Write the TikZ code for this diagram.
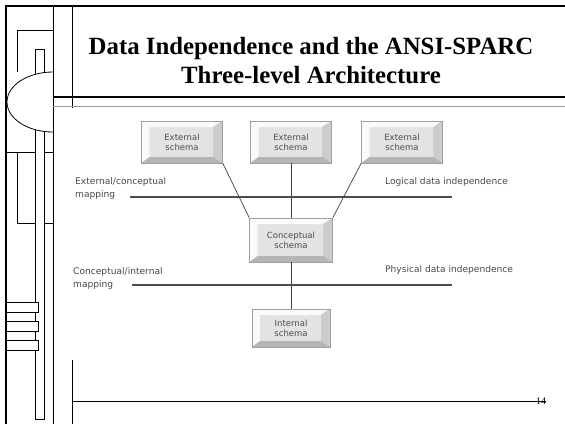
\documentclass[tikz,border=0pt]{standalone}
\usepackage{fontspec}
\setmainfont{Liberation Serif}
\newfontfamily\dejavu{DejaVu Sans}
\usetikzlibrary{calc}
\tikzset{
  frameline/.style={draw=black, line width=0.8pt},
  schema/.style={draw=gray!75, line width=0.6pt, fill=gray!22, inner sep=0pt, align=center,
    font=\dejavu\fontsize{8.5}{10}\selectfont, text=black!70,
    path picture={
      \fill[gray!4] (path picture bounding box.south west) -- (path picture bounding box.north west)
        -- (path picture bounding box.north east) -- ($(path picture bounding box.north east)+(-9pt,-6pt)$)
        -- ($(path picture bounding box.north west)+(8pt,-6pt)$) -- ($(path picture bounding box.south west)+(8pt,6pt)$) -- cycle;
      \fill[gray!58] (path picture bounding box.south west) -- (path picture bounding box.south east)
        -- (path picture bounding box.north east) -- ($(path picture bounding box.north east)+(-9pt,-6pt)$)
        -- ($(path picture bounding box.south east)+(-9pt,6pt)$) -- ($(path picture bounding box.south west)+(8pt,6pt)$) -- cycle;
      \fill[gray!40] ($(path picture bounding box.south east)+(-9pt,6pt)$) -- ($(path picture bounding box.north east)+(-9pt,-6pt)$)
        -- (path picture bounding box.north east) -- (path picture bounding box.south east) -- cycle;
    }},
  lbl/.style={anchor=west, align=left, inner sep=0pt, font=\dejavu\fontsize{9.1}{13}\selectfont, text=black!72},
  conn/.style={draw=black!75, line width=0.7pt},
  mapline/.style={draw=black!70, line width=1.6pt},
  title/.style={font=\bfseries\fontsize{24.8}{29}\selectfont, align=center, inner sep=0pt}
}
\begin{document}
\begin{tikzpicture}[x=1pt,y=-1pt]
\useasboundingbox (0,0) rectangle (565,424);
% ---------- left decorative frame ----------
\draw[frameline] (17,72) -- (17,30) -- (53,30);
\draw[frameline] (6,152) -- (53,152);
\draw[frameline] (17,152) -- (17,223) -- (53,223);
\draw[frameline] (72,6) -- (72,108);
\draw[frameline, fill=white] (35,49) rectangle (44,419);
\draw[frameline, fill=white] (53,72) arc[start angle=270, end angle=90, x radius=46, y radius=30];
\draw[frameline] (53,6) -- (53,424);
\draw[frameline, fill=white] (6,302) rectangle (38,312);
\draw[frameline, fill=white] (6,321) rectangle (38,331);
\draw[frameline, fill=white] (6,340) rectangle (38,350);
\draw[black, line width=1.4pt] (53,97) -- (565,97);
\draw[gray!80, line width=1pt] (53,106) -- (565,106);
\draw[black, line width=2.6pt] (6,424) -- (6,6) -- (565,6);
\draw[frameline] (72,360) -- (72,424);
\coordinate (foot) at (72,401);
\node[font=\fontsize{10}{11}\selectfont, inner sep=0pt] (pg) at (541,401) {14};
\draw[frameline] (foot) -- (pg.east);
% ---------- title ----------
\node[title] (ttl) at (311,61) {Data Independence and the ANSI-SPARC\\Three-level Architecture};
% ---------- diagram ----------
\node[schema, minimum width=81pt, minimum height=42pt] (e1) at (182,142) {External\\schema};
\node[schema, minimum width=81pt, minimum height=42pt] (e2) at (291,142) {External\\schema};
\node[schema, minimum width=81pt, minimum height=42pt] (e3) at (402,142) {External\\schema};
\node[schema, minimum width=83pt, minimum height=44pt] (cs) at (291,240) {Conceptual\\schema};
\node[schema, minimum width=78pt, minimum height=38pt] (is) at (291,328) {Internal\\schema};
\draw[conn] (e1.south east) -- (cs.north west);
\draw[conn] (e2.south) -- (cs.north);
\draw[conn] (e3.south west) -- (cs.north east);
\draw[conn] (cs.south) -- (is.north);
\coordinate (m1a) at (130,197);
\coordinate (m1b) at (452,197);
\coordinate (m2a) at (132,285);
\coordinate (m2b) at (452,285);
\draw[mapline] (m1a) -- (m1b);
\draw[mapline] (m2a) -- (m2b);
\node[lbl] (l1) at (75,188) {External/conceptual\\mapping};
\node[lbl] (l2) at (385,182) {Logical data independence};
\node[lbl] (l3) at (73,278) {Conceptual/internal\\mapping};
\node[lbl] (l4) at (385,270) {Physical data independence};
\end{tikzpicture}
\end{document}
